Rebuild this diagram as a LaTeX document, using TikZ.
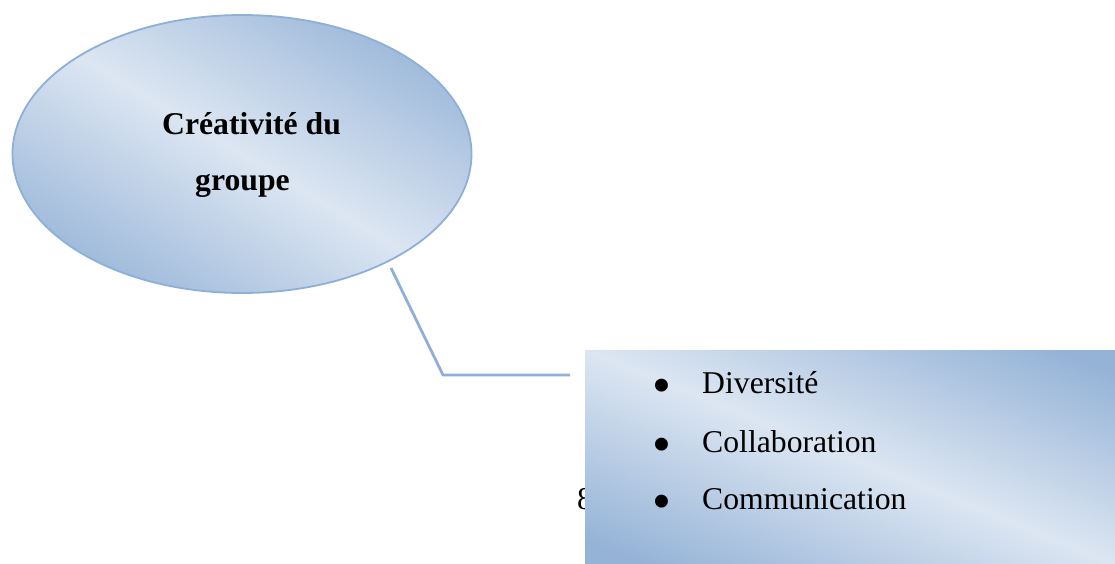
\documentclass[tikz,border=0pt]{standalone}
\usepackage{fontspec}
\setmainfont{Liberation Serif}
\usetikzlibrary{shapes.geometric}
\definecolor{lightblue}{HTML}{DCE6F2}
\definecolor{darkblue}{HTML}{95B3D7}
\definecolor{edgeblue}{HTML}{8EAFD8}
\pgfdeclareverticalshading{mirrorblue}{100bp}{color(0bp)=(darkblue); color(21bp)=(darkblue); color(50bp)=(lightblue); color(79bp)=(darkblue); color(100bp)=(darkblue)}
\tikzset{
  txt/.style={anchor=base west, inner sep=0pt, font=\fontsize{31.7}{38}\selectfont},
  btxt/.style={txt, font=\fontsize{31.7}{38}\selectfont\bfseries},
  bul/.style={anchor=base, inner sep=0pt, font=\fontsize{54}{54}\selectfont},
  bubble/.style={ellipse, draw=edgeblue, line width=1.8pt, shading=mirrorblue, shading angle=-31, inner sep=0pt},
  panel/.style={rectangle, inner sep=0pt, shading=mirrorblue, shading angle=-22},
  link/.style={draw=edgeblue, line width=2.8pt}
}
\begin{document}
\begin{tikzpicture}[x=1pt,y=-1pt]
\useasboundingbox (0,0) rectangle (1115,564);
\node[bubble, minimum width=459pt, minimum height=278pt] (ell) at (242,154) {};
\node[btxt] (t1) at (162,135) {Créativité du};
\node[btxt] (t2) at (195,190) {groupe};
\coordinate (c1) at (391,268);
\coordinate (c2) at (443,375);
\coordinate (c3) at (570,375);
\draw[link] (c1) -- (c2) -- (c3);
\node[txt] (eight) at (577,509) {8};
\node[panel, anchor=north west, minimum width=531pt, minimum height=214pt] (box) at (585,350) {};
\node[bul] (b1) at (662,403) {\textbullet};
\node[txt] (l1) at (702,393) {Diversité};
\node[bul] (b2) at (662,462) {\textbullet};
\node[txt] (l2) at (702,452) {Collaboration};
\node[bul] (b3) at (662,519) {\textbullet};
\node[txt] (l3) at (702,509) {Communication};
\end{tikzpicture}
\end{document}
